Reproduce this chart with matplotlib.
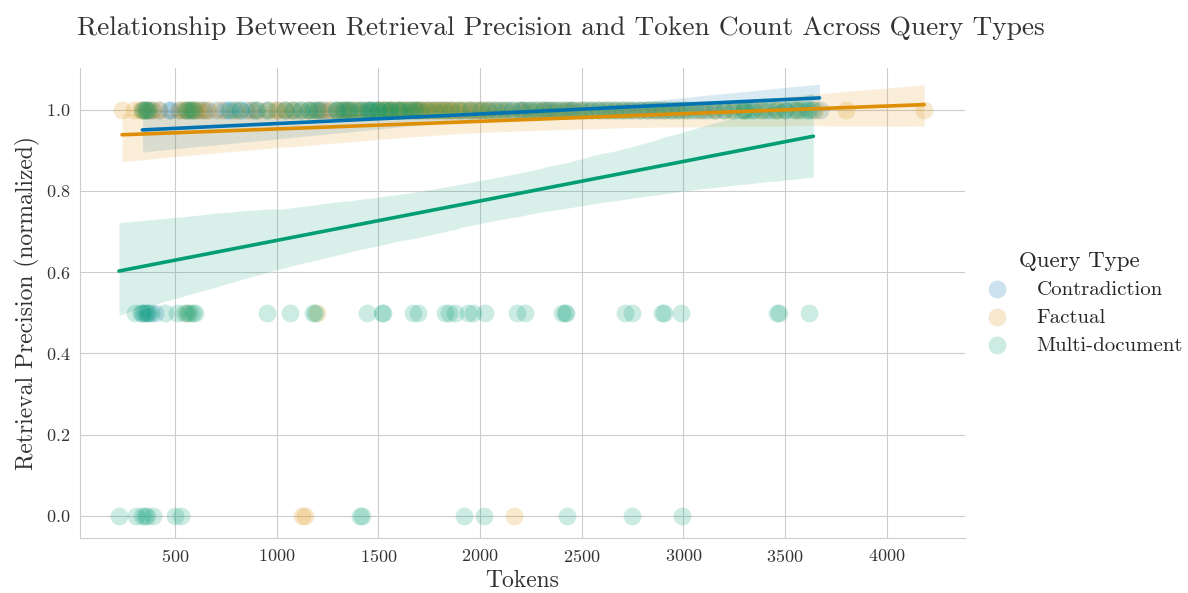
import numpy as np
import matplotlib
matplotlib.use("Agg")
import matplotlib.pyplot as plt
import seaborn as sns

# ---------------- data ----------------
groups = ["Contradiction", "Factual", "Multi-document"]
colors = ["#0173B2", "#DE8F05", "#029E73"]

contradiction_tokens = [345, 360, 385, 420, 470, 520, 560, 590, 620, 660, 700, 740, 790,
                        850, 900, 950, 1000, 1040, 1080, 1120, 1160, 1200,
                        1230, 1260, 1290, 1320, 1350, 1380, 1410, 1440, 1470, 1500,
                        1530, 1560, 1590, 1620, 1650, 1680, 1710, 1740, 1770, 1800,
                        1830, 1860, 1890, 1920, 1950, 1980, 2010, 2040, 2070, 2100,
                        2130, 2160, 2190, 2220, 2250, 2280, 2310, 2340, 2370, 2400,
                        2430, 2460, 2490, 2520, 2550, 2580, 2610, 2640, 2670, 2700,
                        2730, 2760, 2790, 2820, 2850, 2880, 2910, 2940, 2970, 3000,
                        3040, 3080, 3120, 3160, 3200, 3250, 3300, 3350, 3400, 3450,
                        3500, 3560, 3620, 3670,
                        1215, 1335, 1455, 1575, 1695, 2205, 2325, 2445,
                        480, 640, 760, 820, 880,
                        340, 365, 400]
contradiction_prec = [1.0] * 109 + [0.5, 0.5, 0.5]

factual_tokens = [240, 300, 330, 345, 360, 375, 390, 420,
                  520, 540, 555, 570, 585, 600, 615, 640, 662,
                  720, 800, 868, 910, 957, 990,
                  1010, 1040, 1070, 1100, 1150, 1180, 1210, 1240, 1270, 1300, 1320,
                  1340, 1360, 1380, 1400, 1430, 1460, 1490,
                  1510, 1530, 1550, 1570, 1590, 1610, 1630, 1650, 1670, 1690, 1710,
                  1730, 1750, 1770, 1790, 1810, 1830, 1850, 1870, 1890, 1910, 1930,
                  1950, 1970, 1990,
                  1520, 1560, 1600, 1640, 1680, 1720, 1760, 1800, 1840, 1880,
                  2010, 2030, 2050, 2080, 2110, 2140, 2180, 2210, 2240, 2270, 2300,
                  2330, 2360, 2390, 2420, 2450, 2480,
                  2510, 2550, 2590, 2630, 2670, 2710, 2750, 2790, 2830, 2870, 2910, 2960,
                  3010, 3080, 3150, 3230, 3300, 3380, 3460,
                  3560, 3650, 3802, 4185,
                  1124, 1140, 2170, 1200, 560]
factual_prec = [1.0] * 116 + [0.0, 0.0, 0.0, 0.5, 0.5]

multi_tokens = [340, 355, 365, 375, 550, 565, 580, 595, 770, 820, 900,
                960, 1040, 1080, 1120, 1160, 1180, 1200, 1290, 1330, 1360, 1400,
                1450, 1480, 1500, 1540, 1560, 1600, 1650, 1660, 1700, 1740, 1780,
                1820, 1860, 1900, 1950, 2000, 2040, 2080, 2120, 2160, 2200, 2240,
                2270, 2310, 2350, 2380, 2420, 2460, 2500, 2540, 2580, 2620, 2660,
                2700, 2740, 2780, 2820, 2860, 2900, 2940, 2980, 3020, 3060, 3100,
                3150, 3200, 3240, 3280, 3300, 3320, 3340, 3380, 3420, 3460, 3500,
                3540, 3580, 3610, 3640,
                1300, 1350, 1420, 1460, 1500, 1530, 1560, 1600, 1620, 1680,
                303, 335, 350, 360, 372, 380, 451, 510, 545, 560, 574, 590, 600,
                952, 1065, 1178, 1190, 1443, 1517, 1525, 1670, 1694, 1827, 1850,
                1876, 1940, 1964, 2023, 2181, 2220, 2402, 2417, 2425, 2711, 2746,
                2893, 2905, 2991, 3463, 3473, 3620,
                225, 308, 338, 353, 362, 392, 500, 530, 1410, 1418, 1920, 2018,
                2426, 2750, 2996]
multi_prec = [1.0] * 91 + [0.5] * 41 + [0.0] * 15

tokens_by_group = [contradiction_tokens, factual_tokens, multi_tokens]
prec_by_group = [contradiction_prec, factual_prec, multi_prec]

x_ticks = [500, 1000, 1500, 2000, 2500, 3000, 3500, 4000]
y_ticks = [0.0, 0.2, 0.4, 0.6, 0.8, 1.0]

# ---------------- style ----------------
sns.set_style("whitegrid")
plt.rcParams["font.family"] = ["cmr10", "DejaVu Serif"]
plt.rcParams["mathtext.fontset"] = "cm"
plt.rcParams["axes.formatter.use_mathtext"] = True

fig = plt.figure(figsize=(11.88, 5.93), dpi=100)
ax = fig.add_axes([0.0673, 0.0927, 0.7449, 0.7926])

handles = []
for name, col, xs, ys in zip(groups, colors, tokens_by_group, prec_by_group):
    sns.regplot(x=np.array(xs, float), y=np.array(ys, float), ax=ax, color=col,
                scatter_kws=dict(s=165, alpha=0.2, linewidths=0),
                line_kws=dict(lw=2.6), ci=95, seed=1, truncate=True)
    handles.append(ax.scatter([], [], s=165, color=col, alpha=0.2, linewidths=0, label=name))

ax.set_xlim(33, 4385)
ax.set_ylim(-0.055, 1.103)
ax.set_xticks(x_ticks)
ax.set_yticks(y_ticks)
ax.tick_params(labelsize=13, colors="#333333")
ax.set_xlabel("Tokens", fontsize=17, color="#333333")
ax.set_ylabel("Retrieval Precision (normalized)", fontsize=17, color="#333333")
sns.despine(ax=ax)

fig.text(561 / 1188, 1 - 28 / 593, "Relationship Between Retrieval Precision and Token Count Across Query Types",
         ha="center", va="center", fontsize=19.7, color="#333333")

leg = fig.legend(handles=handles, loc="center left", bbox_to_anchor=(0.806, 0.489),
                 frameon=False, fontsize=15, title="Query Type", title_fontsize=16.5,
                 handletextpad=0.9, labelspacing=0.45)

fig.savefig("out.png", dpi=100)
